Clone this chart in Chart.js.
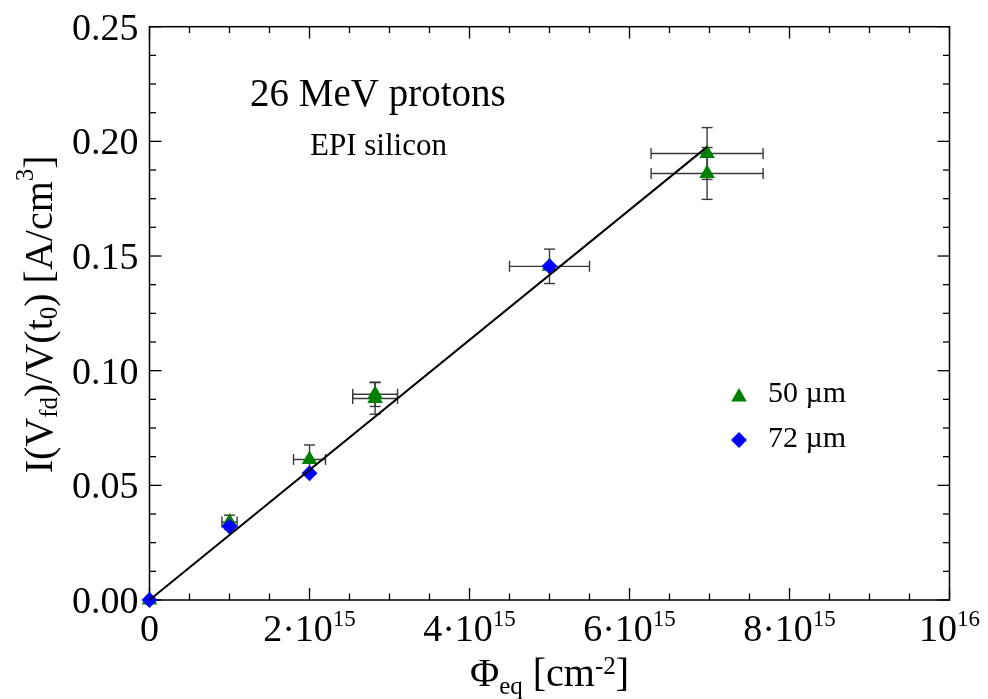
<!DOCTYPE html>
<html><head><meta charset="utf-8">
<script src="https://cdn.jsdelivr.net/npm/chart.js@4/dist/chart.umd.min.js"></script>
<style>html,body{margin:0;padding:0;background:#fff}canvas{display:block}</style>
</head><body>
<canvas id="c" width="988" height="699"></canvas>
<script>
// ---- data ----
const fluence50 = [0, 1e15, 2e15, 2.82e15, 2.82e15, 5e15, 6.97e15, 6.97e15];
const current50 = [0, 0.034, 0.0613, 0.0897, 0.0879, 0.1455, 0.1947, 0.1860];
const fluenceErr50 = [0, 0.095e15, 0.2e15, 0.28e15, 0.28e15, 0.5e15, 0.7e15, 0.7e15];
const currentErr50 = [0, 0.003, 0.0063, 0.0053, 0.0069, 0.0075, 0.0113, 0.0113];
const fluence72 = [0, 1e15, 2e15, 5e15];
const current72 = [0, 0.032, 0.0553, 0.1455];
const fitX = [0, 6.97e15];
const fitY = [0, 0.1976];
const xTicks = [0, 2e15, 4e15, 6e15, 8e15, 1e16];
const xTickLabels = ['0', '2·10^{15}', '4·10^{15}', '6·10^{15}', '8·10^{15}', '10^{16}'];
const yTicks = [0, 0.05, 0.10, 0.15, 0.20, 0.25];
const yTickLabels = ['0.00', '0.05', '0.10', '0.15', '0.20', '0.25'];
const seriesNames = ['50 µm', '72 µm'];
const xTitle = 'Φ_{eq} [cm^{-2}]';
const yTitle = 'I(V_{fd})/V(t_{0}) [A/cm^{3}]';
const title1 = '26 MeV protons';
const title2 = 'EPI silicon';

const FAM = '"Liberation Serif","Times New Roman",Times,serif';
const GREEN = '#008000', BLUE = '#0000ff';

function parseRich(str) {
  const segs = []; let i = 0, buf = '';
  while (i < str.length) {
    const c = str[i];
    if ((c === '_' || c === '^') && str[i + 1] === '{') {
      if (buf) { segs.push({t: buf, s: 0}); buf = ''; }
      const end = str.indexOf('}', i);
      segs.push({t: str.slice(i + 2, end), s: c === '_' ? -1 : 1});
      i = end + 1;
    } else { buf += c; i++; }
  }
  if (buf) segs.push({t: buf, s: 0});
  return segs;
}
function drawRich(ctx, str, x, y, o) {
  const segs = parseRich(str);
  let total = 0;
  segs.forEach(sg => { ctx.font = (sg.s ? o.small : o.size) + 'px ' + FAM; sg.w = ctx.measureText(sg.t).width; total += sg.w; });
  let cx = o.align === 'center' ? x - total / 2 : (o.align === 'right' ? x - total : x);
  ctx.textAlign = 'left'; ctx.textBaseline = 'alphabetic'; ctx.fillStyle = '#000';
  segs.forEach(sg => {
    ctx.font = (sg.s ? o.small : o.size) + 'px ' + FAM;
    const dy = sg.s === 1 ? -o.up : (sg.s === -1 ? o.down : 0);
    ctx.fillText(sg.t, cx, y + dy);
    cx += sg.w;
  });
}
function line(ctx, x1, y1, x2, y2) { ctx.beginPath(); ctx.moveTo(x1, y1); ctx.lineTo(x2, y2); ctx.stroke(); }
function tri(ctx, x, y, r, col) {
  ctx.fillStyle = col; ctx.beginPath();
  ctx.moveTo(x, y - r); ctx.lineTo(x + r * 0.866, y + r * 0.5); ctx.lineTo(x - r * 0.866, y + r * 0.5); ctx.closePath(); ctx.fill();
}
function dia(ctx, x, y, r, col) {
  ctx.fillStyle = col; ctx.beginPath();
  ctx.moveTo(x, y - r); ctx.lineTo(x + r, y); ctx.lineTo(x, y + r); ctx.lineTo(x - r, y); ctx.closePath(); ctx.fill();
}

const decor = {
  id: 'decor',
  beforeDatasetsDraw(chart) {
    const ctx = chart.ctx, a = chart.chartArea, xs = chart.scales.x, ys = chart.scales.y;
    ctx.save();
    ctx.strokeStyle = '#000'; ctx.lineWidth = 1.5;
    ctx.strokeRect(a.left, a.top, a.right - a.left, a.bottom - a.top);
    ctx.lineWidth = 1.3;
    for (let i = 0; i <= 20; i++) {
      const px = xs.getPixelForValue(i * 5e14);
      const L = i % 4 === 0 ? 12 : 6.5;
      line(ctx, px, a.bottom, px, a.bottom - L);
      line(ctx, px, a.top, px, a.top + L);
    }
    for (let i = 0; i <= 20; i++) {
      const py = ys.getPixelForValue(i * 0.0125);
      const L = i % 4 === 0 ? 12 : 6.5;
      line(ctx, a.left, py, a.left + L, py);
      line(ctx, a.right, py, a.right - L, py);
    }
    // error bars
    ctx.strokeStyle = '#3a3a3a'; ctx.lineWidth = 1.4;
    for (let i = 0; i < fluence50.length; i++) {
      const ex = fluenceErr50[i], ey = currentErr50[i];
      const px = xs.getPixelForValue(fluence50[i]), py = ys.getPixelForValue(current50[i]);
      if (ex > 0) {
        const l = xs.getPixelForValue(fluence50[i] - ex), r = xs.getPixelForValue(fluence50[i] + ex);
        line(ctx, l, py, r, py); line(ctx, l, py - 5.5, l, py + 5.5); line(ctx, r, py - 5.5, r, py + 5.5);
      }
      if (ey > 0) {
        const t = ys.getPixelForValue(current50[i] + ey), b = ys.getPixelForValue(current50[i] - ey);
        line(ctx, px, t, px, b); line(ctx, px - 5.5, t, px + 5.5, t); line(ctx, px - 5.5, b, px + 5.5, b);
      }
    }
    ctx.restore();
  },
  afterDraw(chart) {
    const ctx = chart.ctx, a = chart.chartArea, xs = chart.scales.x, ys = chart.scales.y;
    ctx.save();
    xTicks.forEach((v, i) => drawRich(ctx, xTickLabels[i], xs.getPixelForValue(v), a.bottom + 41, {size: 38, small: 23, up: 15, down: 7, align: 'center'}));
    yTicks.forEach((v, i) => drawRich(ctx, yTickLabels[i], a.left - 11, ys.getPixelForValue(v) + 13, {size: 38, small: 23, up: 15, down: 7, align: 'right'}));
    drawRich(ctx, xTitle, (a.left + a.right) / 2, 686, {size: 40, small: 25, up: 12, down: 8, align: 'center'});
    ctx.save();
    ctx.translate(52, (a.top + a.bottom) / 2 + 1);
    ctx.rotate(-Math.PI / 2);
    drawRich(ctx, yTitle, 0, 0, {size: 40, small: 25, up: 19, down: 5, align: 'center'});
    ctx.restore();
    drawRich(ctx, title1, 250, 106, {size: 39, small: 25, up: 12, down: 7, align: 'left'});
    drawRich(ctx, title2, 310, 155, {size: 31, small: 20, up: 10, down: 5, align: 'left'});
    // legend
    tri(ctx, 739, 397, 9, GREEN);
    dia(ctx, 739, 440, 8, BLUE);
    drawRich(ctx, seriesNames[0], 768, 402, {size: 30, small: 20, up: 10, down: 5, align: 'left'});
    drawRich(ctx, seriesNames[1], 768, 447, {size: 30, small: 20, up: 10, down: 5, align: 'left'});
    ctx.restore();
  }
};

new Chart(document.getElementById('c'), {
  type: 'scatter',
  data: {
    datasets: [
      {label: 'fit', data: fitX.map((x, i) => ({x, y: fitY[i]})), showLine: true, borderColor: '#000', borderWidth: 2, pointRadius: 0, clip: false},
      {label: seriesNames[1], data: fluence72.map((x, i) => ({x, y: current72[i]})), pointStyle: 'rectRot', pointRadius: 8, backgroundColor: BLUE, borderColor: BLUE, borderWidth: 0, clip: false},
      {label: seriesNames[0], data: fluence50.map((x, i) => ({x, y: current50[i]})), pointStyle: 'triangle', pointRadius: 9, backgroundColor: GREEN, borderColor: GREEN, borderWidth: 0, clip: false}
    ]
  },
  options: {
    responsive: false, animation: false, devicePixelRatio: 1,
    layout: {padding: {left: 149.5, right: 38.5, top: 26.7, bottom: 99}},
    plugins: {legend: {display: false}, tooltip: {enabled: false}, title: {display: false}},
    scales: {
      x: {type: 'linear', min: 0, max: 1e16, display: false},
      y: {type: 'linear', min: 0, max: 0.25, display: false}
    }
  },
  plugins: [decor]
});
</script>
</body></html>
